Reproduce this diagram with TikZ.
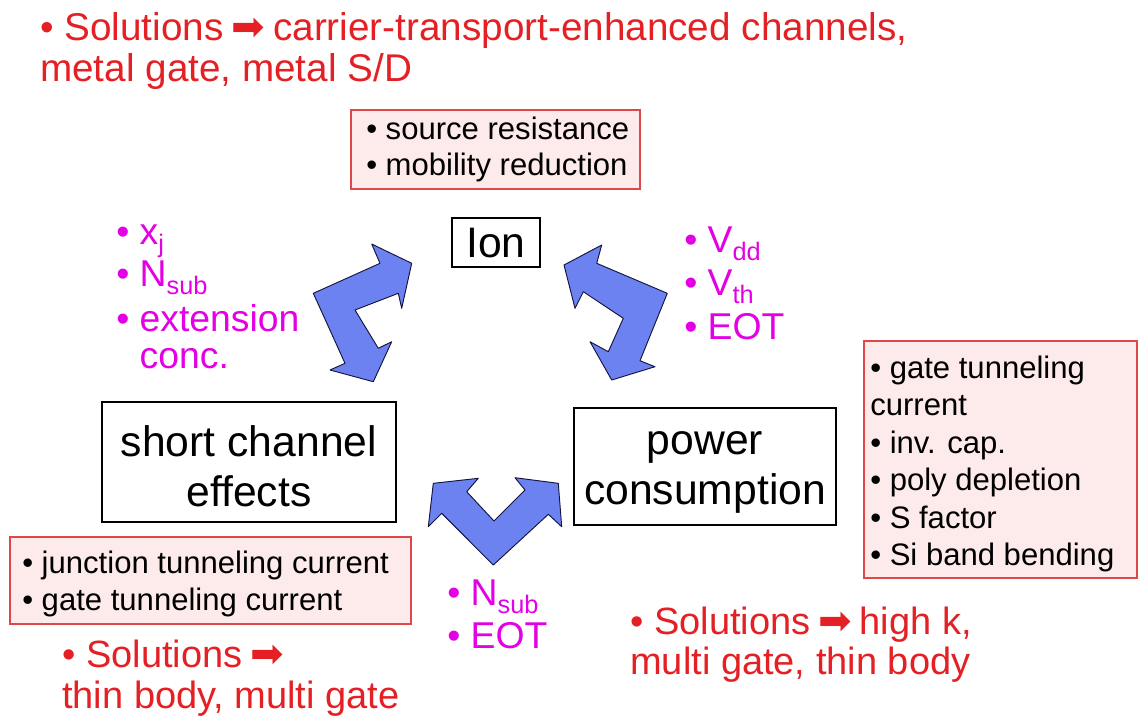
\documentclass[tikz,border=0pt]{standalone}
\usepackage{fontspec}
\setmainfont{Liberation Sans}
\newfontfamily\arrowfont{DejaVu Sans}

\definecolor{solred}{RGB}{228,32,36}
\definecolor{boxred}{RGB}{222,72,72}
\definecolor{boxfill}{RGB}{253,234,234}
\definecolor{parmag}{RGB}{228,0,228}
\definecolor{arrblue}{RGB}{108,130,240}
\definecolor{arrline}{RGB}{20,20,60}

\newcommand{\lowtxt}[1]{\raisebox{-6pt}{\fontsize{19}{19}\selectfont #1}}
\newcommand{\solarrow}{{\arrowfont\fontsize{30}{30}\selectfont\kern-2pt ➡\kern-2pt}}

\tikzset{
  soltext/.style={anchor=base west,inner sep=0pt,text=solred,font=\fontsize{28.5}{30}\selectfont},
  partext/.style={anchor=base west,inner sep=0pt,text=parmag,font=\fontsize{28}{29}\selectfont},
  itemtext/.style={anchor=base west,inner sep=0pt,font=\fontsize{23.3}{24}\selectfont},
  maintext/.style={align=center,inner sep=0pt,font=\fontsize{32}{37.5}\selectfont},
  framebox/.style={draw,line width=1.5pt},
  causebox/.style={draw=boxred,fill=boxfill,line width=1pt},
  bentarrow/.style={draw=arrline,fill=arrblue,line width=0.7pt,line join=round}
}

\begin{document}
\begin{tikzpicture}[x=0.75pt,y=0.75pt,yscale=-1,xscale=1]
\path[use as bounding box] (0,0) rectangle (1139,719);

% Solutions for Ion
\node[soltext,font=\fontsize{29}{30}\selectfont] (solion) at (40,40) {• Solutions \solarrow{} carrier-transport-enhanced channels,};
\node[soltext,font=\fontsize{29}{30}\selectfont] (solionb) at (40,81) {metal gate, metal S/D};

%Shape: Rectangle [causes of Ion]
\draw[causebox] (351,110) rectangle (640,189);
\node[itemtext] (ionca) at (366,139) {• source resistance};
\node[itemtext] (ioncb) at (366,175) {• mobility reduction};

%Shape: Rectangle [Ion]
\draw[framebox] (452,218) rectangle (540,267);
% Text Node
\node[maintext] (ion) at (496,243) {Ion};
%Shape: Rectangle [short channel effects]
\draw[framebox] (102,402) rectangle (396,522);
% Text Node
\node[maintext] (sce) at (249,466) {short channel\\effects};
%Shape: Rectangle [power consumption]
\draw[framebox] (574,408) rectangle (836,525);
% Text Node
\node[maintext] (power) at (705,472) {power\\consumption};

%Shape: Bent double arrow [Ion - SCE]
\draw[bentarrow] (411.7,263.3) -- (401.7,308.3) -- (398.3,293.3) -- (355,310) -- (378.3,348.3) -- (391.7,341.7) -- (373.3,381.7) -- (330,370) -- (345,363.3) -- (313.3,293.3) -- (380,263.3) -- (371.7,244) -- cycle ;
%Shape: Bent double arrow [Ion - power]
\draw[bentarrow] (564,265) -- (601.7,245) -- (596.7,263.3) -- (667.3,293.3) -- (640,360.7) -- (655,366.7) -- (611.7,380) -- (590,341.7) -- (608.3,351.7) -- (623.3,318.3) -- (583.3,291.7) -- (575,308.3) -- cycle ;
%Shape: Bent double arrow [SCE - power]
\draw[bentarrow] (433.3,483.3) -- (478.3,478.3) -- (466.7,491.7) -- (494,521) -- (525,490) -- (515,477.7) -- (558.3,483.3) -- (561.7,526.7) -- (548.3,514.3) -- (493.3,565) -- (441.7,513.3) -- (428.3,526.7) -- cycle ;

% Parameters, left
\node[partext] (pxj) at (116,244) {• x\lowtxt{j}};
\node[partext] (pnsub) at (116,286) {• N\lowtxt{sub}};
\node[partext] (pext) at (116,331) {• extension};
\node[partext] (pconc) at (116,368) {\phantom{•} conc.};
% Parameters, right
\node[partext] (pvdd) at (684,252) {• V\lowtxt{dd}};
\node[partext] (pvth) at (684,295) {• V\lowtxt{th}};
\node[partext] (peot) at (684,339) {• EOT};
% Parameters, bottom
\node[partext] (pnsubb) at (447,605) {• N\lowtxt{sub}};
\node[partext] (peotb) at (447,648) {• EOT};

%Shape: Rectangle [causes of power]
\draw[causebox] (864,341) rectangle (1137,578);
\node[itemtext] (pwca) at (870,378) {• gate tunneling};
\node[itemtext] (pwcb) at (870,415.5) {current};
\node[itemtext] (pwcc) at (870,453) {• inv. cap.};
\node[itemtext] (pwcd) at (870,490.5) {• poly depletion};
\node[itemtext] (pwce) at (870,528) {• S factor};
\node[itemtext] (pwcf) at (870,565.5) {• Si band bending};

%Shape: Rectangle [causes of SCE]
\draw[causebox] (10,537) rectangle (411,624);
\node[itemtext] (sceca) at (22,573) {• junction tunneling current};
\node[itemtext] (scecb) at (22,610) {• gate tunneling current};

% Solutions for power and SCE
\node[soltext] (solpw) at (630,634) {• Solutions \solarrow{} high k,};
\node[soltext] (solpwb) at (630,674) {multi gate, thin body};
\node[soltext] (solsce) at (62,667) {• Solutions \solarrow};
\node[soltext] (solsceb) at (62,708) {thin body, multi gate};

\end{tikzpicture}
\end{document}
